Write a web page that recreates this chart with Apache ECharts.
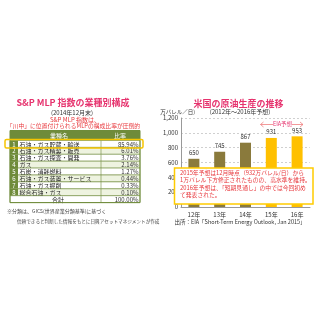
<!DOCTYPE html>
<html><head><meta charset="utf-8">
<script src="https://cdn.jsdelivr.net/npm/echarts@6/dist/echarts.min.js"></script>
<style>
html,body{margin:0;padding:0;background:#fff;}
#wrap{position:relative;width:320px;height:320px;overflow:hidden;}
#left{position:absolute;left:0;top:0;width:160px;height:320px;}
#right{position:absolute;left:160px;top:0;width:160px;height:320px;}
</style></head>
<body><div id="wrap"><div id="left"></div><div id="right"></div></div>
<script>
// ---- data: left table ----
const industries = ['石油・ガス貯蔵・輸送','石油・ガス精製・販売','石油・ガス探査・開発','ガス','石炭・消耗燃料','石油・ガス装置・サービス','石油・ガス掘削','総合石油・ガス'];
const shares = ['85.94%','6.01%','3.76%','2.14%','1.27%','0.44%','0.33%','0.10%'];
const totalLabel = '合計';
const totalShare = '100.00%';
// ---- data: right bar chart ----
const years = ['12年','13年','14年','15年','16年'];
const production = [650, 745, 867, 931, 953];
const forecastFlags = [false, false, false, true, true];
const yTicks = [0, 200, 400, 600, 800, 1000, 1200];

const FONT = '"Noto Sans CJK JP", "Noto Sans", sans-serif';
const PINK = '#e6336e';
const RED = '#e8383d';
const GREEN = '#6f8b3a';
const LIGHTGREEN = '#eef3e0';

// ---------- LEFT PANEL ----------
const L = echarts.init(document.getElementById('left'), null, {renderer:'canvas'});
const g = [];
function txt(x, y, s, opt) {
  g.push({type:'text', x:x, y:y, style:Object.assign({text:s, font:'6.5px '+FONT, fill:'#222', align:'left', verticalAlign:'middle'}, opt||{})});
}
txt(73, 103, 'S&P MLP 指数の業種別構成', {font:'bold 9px '+FONT, fill:PINK, align:'center'});
txt(72, 113, '(2014年12月末)', {font:'6px '+FONT, fill:'#333', align:'center'});
txt(75, 119.5, 'S&P MLP 指数は、', {font:'6px '+FONT, fill:RED, align:'center'});
txt(73.5, 126, '「川中」に位置付けられるMLPの構成比率が圧倒的', {font:'5.8px '+FONT, fill:RED, align:'center'});

const tx0 = 10, tx1 = 140, numW = 8, divX = 101;
const headTop = 130.5, headH = 10, rowH = 6.9;
const rowTop0 = headTop + headH;
// header
g.push({type:'rect', shape:{x:tx0, y:headTop, width:tx1-tx0, height:headH}, style:{fill:GREEN}});
txt(59, headTop+headH/2+0.5, '業種名', {fill:'#fff', align:'center', font:'6px '+FONT});
txt(120, headTop+headH/2+0.5, '比率', {fill:'#fff', align:'center', font:'6px '+FONT});
industries.forEach(function(name, i){
  const y = rowTop0 + i*rowH;
  g.push({type:'rect', shape:{x:tx0, y:y, width:tx1-tx0, height:rowH}, style:{fill: i%2 ? LIGHTGREEN : '#fff', stroke:GREEN, lineWidth:0.6}});
  g.push({type:'rect', shape:{x:tx0, y:y, width:numW, height:rowH}, style:{fill:GREEN}});
  g.push({type:'line', shape:{x1:divX, y1:y, x2:divX, y2:y+rowH}, style:{stroke:GREEN, lineWidth:0.6}});
  txt(tx0+numW/2, y+rowH/2+0.3, String(i+1), {fill:'#fff', align:'center', font:'6px '+FONT});
  txt(tx0+numW+1.5, y+rowH/2+0.3, name, {font:'6px '+FONT});
  txt(tx1-1.5, y+rowH/2+0.3, shares[i], {align:'right', font:'6px '+FONT, fill:'#333'});
});
const totY = rowTop0 + industries.length*rowH;
g.push({type:'rect', shape:{x:tx0, y:totY, width:tx1-tx0, height:rowH}, style:{fill:'#fff', stroke:GREEN, lineWidth:0.6}});
g.push({type:'line', shape:{x1:divX, y1:totY, x2:divX, y2:totY+rowH}, style:{stroke:GREEN, lineWidth:0.6}});
txt(58, totY+rowH/2+0.3, totalLabel, {align:'center', font:'6px '+FONT});
txt(tx1-1.5, totY+rowH/2+0.3, totalShare, {align:'right', font:'6px '+FONT, fill:'#333'});
g.push({type:'rect', shape:{x:tx0, y:headTop, width:tx1-tx0, height:totY+rowH-headTop}, style:{fill:'none', stroke:GREEN, lineWidth:1}});
// highlight
g.push({type:'rect', shape:{x:5, y:139.5, width:138, height:8.5, r:1.5}, style:{fill:'none', stroke:'#f6c400', lineWidth:1.5}});
txt(7, 211, '※分類は、GICS(世界産業分類基準)に基づく', {font:'5px '+FONT, fill:'#444'});
txt(17, 221, '信頼できると判断した情報をもとに日興アセットマネジメントが作成', {font:'4.6px '+FONT, fill:'#444'});
L.setOption({animation:false, graphic:{elements:g}});

// ---------- RIGHT PANEL ----------
const R = echarts.init(document.getElementById('right'), null, {renderer:'canvas'});
const OLIVE = '#8a7a3c', GOLD = '#ffc000';
const annot = ['2015年予想は12月時点（932万バレル/日）から','1万バレル下方修正されたものの、高水準を維持。','2016年予想は、「短期見通し」の中では今回初め','て発表された。'];
const rg = [
  {type:'text', x:78.5, y:104, style:{text:'米国の原油生産の推移', font:'bold 9px '+FONT, fill:PINK, align:'center', verticalAlign:'middle'}},
  {type:'text', x:80, y:111.5, style:{text:'(2012年～2016年予想)', font:'6px '+FONT, fill:'#333', align:'center', verticalAlign:'middle'}},
  {type:'text', x:35, y:112, style:{text:'(万バレル／日)', font:'5.5px '+FONT, fill:'#333', align:'right', verticalAlign:'middle'}},
  {type:'line', shape:{x1:100.5, y1:124.5, x2:143, y2:124.5}, style:{stroke:'#f08080', lineWidth:0.8}},
  {type:'polyline', shape:{points:[[103.5,122],[100.5,124.5],[103.5,127]]}, style:{stroke:'#f08080', lineWidth:0.8, fill:'none'}},
  {type:'polyline', shape:{points:[[140,122],[143,124.5],[140,127]]}, style:{stroke:'#f08080', lineWidth:0.8, fill:'none'}},
  {type:'rect', shape:{x:113, y:120, width:19, height:7}, style:{fill:'#fff'}},
  {type:'text', x:122.5, y:123.5, style:{text:'EIA予想', font:'5.5px '+FONT, fill:PINK, align:'center', verticalAlign:'middle'}},
  {type:'rect', shape:{x:14.5, y:168, width:138.5, height:36}, style:{fill:'#fff', stroke:'#ffcc00', lineWidth:1.5}, z:10},
  {type:'text', x:80, y:222, style:{text:'出所：EIA「Short-Term Energy Outlook, Jan 2015」', font:'5.5px '+FONT, fill:'#333', align:'center', verticalAlign:'middle'}}
];
annot.forEach(function(s, i){
  rg.push({type:'text', x:20, y:172.5 + i*7.4, z:11, style:{text:s, font:'5.8px '+FONT, fill:RED, align:'left', verticalAlign:'middle'}});
});
R.setOption({
  animation:false,
  textStyle:{fontFamily:FONT},
  grid:{left:13, right:10, top:118, bottom:113, containLabel:false},
  xAxis:{type:'category', data:years,
    axisLine:{lineStyle:{color:'#999'}}, axisTick:{show:false},
    axisLabel:{fontSize:6, color:'#333', margin:5}},
  yAxis:{type:'value', min:yTicks[0], max:yTicks[yTicks.length-1], interval:yTicks[1]-yTicks[0],
    axisLine:{show:true, lineStyle:{color:'#999'}}, axisTick:{show:false},
    axisLabel:{fontSize:6, color:'#333', margin:3, formatter:function(v){return v.toLocaleString('en-US');}},
    splitLine:{lineStyle:{color:'#bbb', type:[2,2], width:0.7}}},
  series:[{type:'bar', barWidth:11,
    data: production.map(function(v, i){ return {value:v, itemStyle:{color: forecastFlags[i] ? GOLD : OLIVE}}; }),
    label:{show:true, position:'top', fontSize:6, color:'#333', distance:3}}],
  graphic:{elements:rg}
});
</script></body></html>
